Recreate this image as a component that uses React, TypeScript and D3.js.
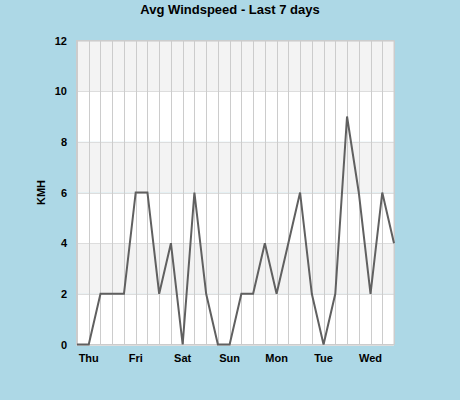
import React from "react";
import * as d3 from "d3";

const dayLabels = ["Thu", "Fri", "Sat", "Sun", "Mon", "Tue", "Wed"];
const dayLabelIndex = [1, 5, 9, 13, 17, 21, 25];
const windValues = [0, 0, 2, 2, 2, 6, 6, 2, 4, 0, 6, 2, 0, 0, 2, 2, 4, 2, 4, 6, 2, 0, 2, 9, 6, 2, 6, 4];
const yTicks = [0, 2, 4, 6, 8, 10, 12];
const title = "Avg Windspeed - Last 7 days";
const yLabel = "KMH";

export default function App() {
  const W = 460, H = 400;
  const left = 76.5, right = 394, top = 40.5, bottom = 344.5;
  const x = d3.scaleLinear().domain([0, windValues.length - 1]).range([left + 0.5, right]);
  const y = d3.scaleLinear().domain([0, 12]).range([bottom, top]);
  const line = d3.line<number>().x((_, i) => x(i)).y((d) => y(d));
  const font = "'Liberation Sans', Arial, sans-serif";
  const bands = [0, 2, 4, 6, 8, 10];
  return (
    <svg width={W} height={H} style={{ position: "absolute", left: 0, top: 0 }} fontFamily={font}>
      <rect x={0} y={0} width={W} height={H} fill="#add8e6" />
      {bands.map((b, i) => (
        <rect key={b} x={left} y={y(b + 2)} width={right - left} height={y(b) - y(b + 2)} fill={i % 2 === 1 ? "#f3f3f3" : "#ffffff"} />
      ))}
      {yTicks.map((t) => (
        <line key={"h" + t} x1={left} x2={right} y1={Math.round(y(t)) + 0.5} y2={Math.round(y(t)) + 0.5} stroke="#dddddd" strokeWidth={1} />
      ))}
      {windValues.map((_, i) => (
        <line key={"v" + i} x1={Math.round(x(i)) + 0.5} x2={Math.round(x(i)) + 0.5} y1={top} y2={bottom} stroke="#cccccc" strokeWidth={1} />
      ))}
      <rect x={left} y={top} width={right - left} height={bottom - top} fill="none" stroke="#cccccc" strokeWidth={1} />
      <path d={line(windValues) || ""} fill="none" stroke="#606060" strokeWidth={2} strokeLinejoin="miter" />
      {yTicks.map((t) => (
        <text key={"yt" + t} x={67} y={y(t) + 4} textAnchor="end" fontSize={11} fontWeight="bold" fill="#000">{t}</text>
      ))}
      {dayLabels.map((d, i) => (
        <text key={d} x={x(dayLabelIndex[i])} y={362} textAnchor="middle" fontSize={11} fontWeight="bold" fill="#000">{d}</text>
      ))}
      <text x={230} y={14} textAnchor="middle" fontSize={13} fontWeight="bold" fill="#000">{title}</text>
      <text transform={`translate(45,${(top + bottom) / 2}) rotate(-90)`} textAnchor="middle" fontSize={11} fontWeight="bold" fill="#000">{yLabel}</text>
    </svg>
  );
}
